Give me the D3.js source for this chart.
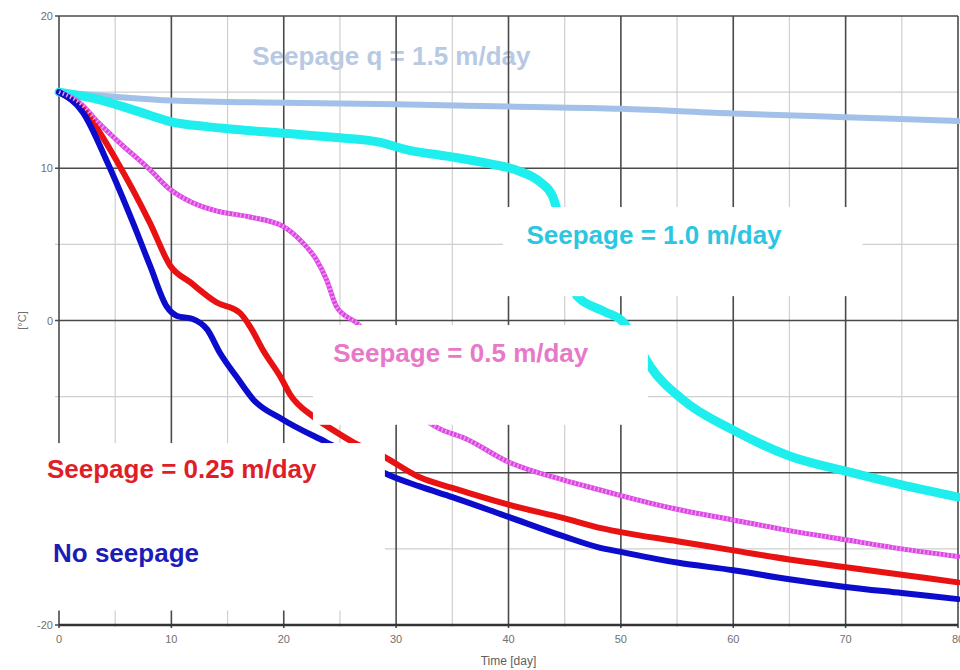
<!DOCTYPE html>
<html>
<head>
<meta charset="utf-8">
<script src="https://cdn.jsdelivr.net/npm/d3@7"></script>
<style>
  body { margin: 0; background: #fff; }
  svg { display: block; font-family: 'Liberation Sans', Arial, sans-serif; }
</style>
</head>
<body>
<svg id="chart_svg" width="960" height="670"></svg>
<script>
// tick values
const major_x = [0, 10, 20, 30, 40, 50, 60, 70, 80];
const minor_x = [5, 15, 25, 35, 45, 55, 65, 75];
const major_y = [20, 10, 0, -10, -20];
const minor_y = [15, 5, -5, -15];
const x_tick_labels = ['0', '10', '20', '30', '40', '50', '60', '70', '80'];
// the -10 label is hidden behind a label box in the original
const y_label_values = [20, 10, 0, -20];
const y_tick_labels = ['20', '10', '0', '-20'];

// series: [time (day), temperature (°C)]
const seepage_15 = [[0, 15.0], [5, 14.7], [10, 14.45], [20, 14.3], [30, 14.2], [40, 14.05],
  [50, 13.9], [60, 13.6], [70, 13.35], [80, 13.1]];

const seepage_10 = [[0, 15.0], [3, 14.6], [5, 14.2], [8, 13.5], [10, 13.05], [13, 12.75],
  [15, 12.6], [20, 12.3], [25, 12.0], [28.6, 11.7], [31, 11.2], [34.5, 10.8], [38.3, 10.3],
  [41, 9.8], [42.8, 9.1], [43.9, 8.2], [44.3, 7.3], [45.2, 4.5], [46.1, 1.6], [48.5, 0.6],
  [50.2, -0.1], [51.4, -1.5], [52.6, -3.0], [55.5, -5.2], [60, -7.2], [65, -8.9],
  [70, -9.9], [75, -10.8], [80, -11.6]];

const seepage_05 = [[0, 15.0], [2, 14.2], [3.5, 13.0], [5.2, 11.8], [8.1, 9.9], [9.9, 8.6],
  [11.7, 7.8], [14, 7.2], [17, 6.8], [19.9, 6.2], [21.7, 5.1], [22.9, 4.0], [23.8, 2.7],
  [24.7, 0.9], [26.8, -0.4], [28.5, -2.5], [30.5, -4.8], [32.2, -6.3], [33.6, -7.0],
  [36.3, -7.8], [40, -9.3], [45, -10.5], [48, -11.1], [50, -11.5], [55, -12.4],
  [60, -13.1], [65, -13.8], [70, -14.4], [75, -15.0], [80, -15.5]];

const seepage_025 = [[0, 15.0], [2.1, 13.9], [5.2, 10.4], [8.1, 6.4], [9.9, 3.6], [11.7, 2.5],
  [14, 1.2], [16.1, 0.5], [17, -0.4], [18.2, -2.0], [19.7, -3.7], [20.6, -4.9],
  [22.6, -6.3], [24.4, -7.2], [26.2, -8.0], [28.8, -8.9], [32.1, -10.3], [35, -11.0],
  [40, -12.1], [45, -13.0], [48, -13.6], [50, -13.9], [55, -14.5], [60, -15.1],
  [65, -15.7], [70, -16.2], [75, -16.7], [80, -17.2]];

const no_seepage = [[0, 15.0], [2.1, 13.7], [4.3, 10.4], [6.6, 6.4], [8.1, 3.6], [9.6, 0.9],
  [10.5, 0.3], [11.9, 0.1], [13.2, -0.6], [14.3, -2.1], [15.8, -3.7], [17.3, -5.2],
  [19.9, -6.5], [23.8, -8.0], [26.5, -9.0], [29.2, -10.1], [32.1, -10.9], [35, -11.6],
  [40, -12.9], [45, -14.2], [48, -14.9], [50, -15.2], [55, -15.9], [60, -16.4],
  [65, -17.0], [70, -17.5], [75, -17.9], [80, -18.3]];

const label_texts = ['Seepage q = 1.5 m/day', 'Seepage = 1.0 m/day', 'Seepage = 0.5 m/day',
  'Seepage = 0.25 m/day', 'No seepage'];

/**
 * Margins of the visualization.
 */
const margin = { top: 16, bottom: 45, left: 59, right: 2 };

let svg = d3.select('#chart_svg');
let width = parseInt(svg.attr('width'));
let height = parseInt(svg.attr('height'));

/**
 * Scales
 */
const xScale = d3.scaleLinear()
  .domain([0, 80])
  .range([margin.left, width - margin.right]);

const yScale = d3.scaleLinear()
  .domain([-20, 20])
  .range([height - margin.bottom, margin.top]);

/**
 * Faint label drawn under the grid (grid lines cross it in the original)
 */
svg.append('text')
  .attr('x', xScale(17.2))
  .attr('y', yScale(16.8))
  .attr('font-size', 26)
  .attr('font-weight', 'bold')
  .attr('fill', '#b8c9e4')
  .text(label_texts[0]);

/**
 * Grid lines
 */
let g_grid = svg.append('g');

g_grid.selectAll('.minor_x')
  .data(minor_x)
  .enter()
  .append('line')
  .attr('x1', (d) => xScale(d))
  .attr('x2', (d) => xScale(d))
  .attr('y1', yScale(20))
  .attr('y2', yScale(-20) + 2)
  .attr('stroke', '#cfcfcf')
  .attr('stroke-width', 1.2);

g_grid.selectAll('.minor_y')
  .data(minor_y)
  .enter()
  .append('line')
  .attr('x1', xScale(0) - 4)
  .attr('x2', xScale(80))
  .attr('y1', (d) => yScale(d))
  .attr('y2', (d) => yScale(d))
  .attr('stroke', '#cfcfcf')
  .attr('stroke-width', 1.2);

g_grid.selectAll('.major_x')
  .data(major_x)
  .enter()
  .append('line')
  .attr('x1', (d) => xScale(d))
  .attr('x2', (d) => xScale(d))
  .attr('y1', yScale(20))
  .attr('y2', yScale(-20) + 3)
  .attr('stroke', '#4a4a4a')
  .attr('stroke-width', 1.6);

g_grid.selectAll('.major_y')
  .data(major_y)
  .enter()
  .append('line')
  .attr('x1', xScale(0) - 4)
  .attr('x2', xScale(80))
  .attr('y1', (d) => yScale(d))
  .attr('y2', (d) => yScale(d))
  .attr('stroke', '#4a4a4a')
  .attr('stroke-width', 1.6);

// thicker bottom axis line
svg.append('line')
  .attr('x1', xScale(0))
  .attr('x2', xScale(80))
  .attr('y1', yScale(-20))
  .attr('y2', yScale(-20))
  .attr('stroke', '#333')
  .attr('stroke-width', 2.4);

/**
 * Tick labels
 */
svg.selectAll('.x_tick_label')
  .data(major_x)
  .enter()
  .append('text')
  .attr('class', 'x_tick_label')
  .attr('x', (d) => xScale(d))
  .attr('y', yScale(-20) + 18)
  .attr('text-anchor', 'middle')
  .attr('font-size', 11)
  .attr('fill', '#707070')
  .text((d, i) => x_tick_labels[i]);

svg.selectAll('.y_tick_label')
  .data(y_label_values)
  .enter()
  .append('text')
  .attr('class', 'y_tick_label')
  .attr('x', xScale(0) - 6)
  .attr('y', (d) => yScale(d) + 4)
  .attr('text-anchor', 'end')
  .attr('font-size', 11)
  .attr('fill', '#707070')
  .text((d, i) => y_tick_labels[i]);

svg.append('text')
  .attr('x', (xScale(0) + xScale(80)) / 2)
  .attr('y', height - 5)
  .attr('text-anchor', 'middle')
  .attr('font-size', 12)
  .attr('fill', '#606060')
  .text('Time [day]');

svg.append('text')
  .attr('transform', 'translate(' + 26 + ',' + yScale(0) + ') rotate(-90)')
  .attr('text-anchor', 'middle')
  .attr('font-size', 11)
  .attr('fill', '#707070')
  .text('[°C]');

/**
 * Curves
 */
const line = d3.line()
  .x((d) => xScale(d[0]))
  .y((d) => yScale(d[1]))
  .curve(d3.curveMonotoneX);

const series = [
  { data: seepage_15, color: '#a3c1e8', width: 6 },
  { data: seepage_10, color: '#1eeeee', width: 9 },
  { data: seepage_05, color: '#dc44e4', width: 5 },
  { data: seepage_025, color: '#e81212', width: 6 },
  { data: no_seepage, color: '#0c0ccc', width: 6 },
];

let g_lines = svg.append('g');
g_lines.selectAll('.curve')
  .data(series)
  .enter()
  .append('path')
  .attr('class', 'curve')
  .attr('d', (d) => line(d.data))
  .attr('fill', 'none')
  .attr('stroke', (d) => d.color)
  .attr('stroke-width', (d) => d.width)
  .attr('stroke-linejoin', 'round')
  .attr('stroke-linecap', 'round');

// hatch texture of the 0.5 m/day marker line
g_lines.append('path')
  .attr('d', line(seepage_05))
  .attr('fill', 'none')
  .attr('stroke', '#ee99f0')
  .attr('stroke-width', 4)
  .attr('stroke-dasharray', '1.5 2.5');

/**
 * White label boxes, covering grid and curves like in the original
 */
const boxes = [
  { x0: 39.5, x1: 71.5, y0: 7.45, y1: 1.6 },
  { x0: 22.6, x1: 52.4, y0: -0.3, y1: -6.85 },
  { x0: -2.6, x1: 29.0, y0: -8.05, y1: -12.45 },
  { x0: -2.6, x1: 29.0, y0: -12.1, y1: -19.05 },
];

svg.selectAll('.label_box')
  .data(boxes)
  .enter()
  .append('rect')
  .attr('class', 'label_box')
  .attr('x', (d) => xScale(d.x0))
  .attr('y', (d) => yScale(d.y0))
  .attr('width', (d) => xScale(d.x1) - xScale(d.x0))
  .attr('height', (d) => yScale(d.y1) - yScale(d.y0))
  .attr('fill', '#fff');

const labels = [
  { text: label_texts[1], day: 41.6, temp: 5.0, color: '#2cc6e2' },
  { text: label_texts[2], day: 24.4, temp: -2.7, color: '#e878c8' },
  { text: label_texts[3], day: -1.07, temp: -10.35, color: '#e01e28' },
  { text: label_texts[4], day: -0.53, temp: -15.86, color: '#1c1cb8' },
];

svg.selectAll('.series_label')
  .data(labels)
  .enter()
  .append('text')
  .attr('class', 'series_label')
  .attr('x', (d) => xScale(d.day))
  .attr('y', (d) => yScale(d.temp))
  .attr('font-size', 26)
  .attr('font-weight', 'bold')
  .attr('fill', (d) => d.color)
  .text((d) => d.text);
</script>
</body>
</html>
